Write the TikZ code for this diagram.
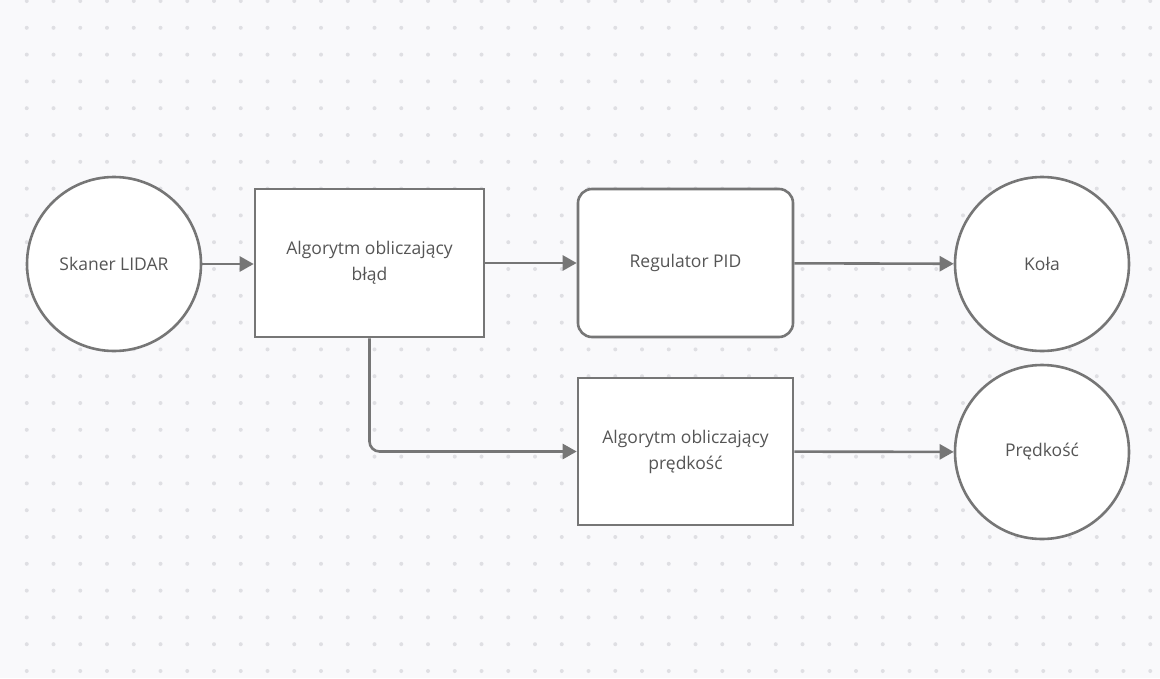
\documentclass[tikz,border=0pt]{standalone}
\usepackage{fontspec}
\setmainfont{Open Sans}
\usetikzlibrary{arrows.meta}
\definecolor{edge}{HTML}{767676}
\definecolor{ink}{HTML}{555555}
\definecolor{paper}{HTML}{F9F9FB}
\definecolor{griddot}{HTML}{DFDFE3}

\begin{document}
\begin{tikzpicture}[x=1pt, y=-1pt, font=\fontsize{17.5}{26}\selectfont,
  >={Triangle[length=14pt, width=15pt]},
  blk/.style={draw=edge, line width=2.6pt, fill=white, text=ink, align=center,
    minimum width=229pt, minimum height=148pt, inner sep=0pt},
  circ/.style={circle, draw=edge, line width=2.6pt, fill=white, text=ink, minimum size=174pt, inner sep=0pt},
  arr/.style={->, draw=edge, line width=2.6pt}]
% background and dot grid
\fill[paper] (0,0) rectangle (1160,678);
\useasboundingbox (0,0) rectangle (1160,678);
\foreach \i in {1,...,43}
  \foreach \j in {0,...,25}
    \fill[griddot] (26.75*\i, 1+26.8*\j) circle (2pt);
% nodes
\node[circ] (lidar) at (114,264) {Skaner LIDAR};
\node[blk] (err) at (369.5,263) {Algorytm obliczający\\błąd};
\node[blk, minimum width=215pt, rounded corners=14pt] (pid) at (685.5,263) {Regulator PID};
\node[circ] (kola) at (1042,264) {Koła};
\node[blk, minimum width=215pt, minimum height=147pt] (spd) at (685.5,451.5) {Algorytm obliczający\\prędkość};
\node[circ] (vel) at (1042,452) {Prędkość};
% connectors
\draw[arr] (lidar) -- (lidar -| err.west);
\draw[arr] (err) -- (pid);
\draw[arr] (pid) -- (kola);
\draw[arr, rounded corners=10pt] (err.south) |- (spd.west);
\draw[arr] (spd) -- (vel);
\end{tikzpicture}
\end{document}
